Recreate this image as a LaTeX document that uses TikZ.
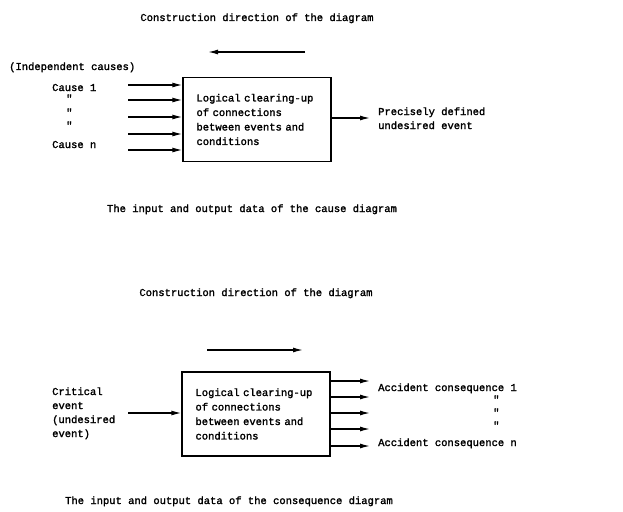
\documentclass[tikz,border=0pt]{standalone}
\usepackage{fontspec}
\newfontfamily\typewriter{Liberation Mono}[FakeBold=1.8]
\usetikzlibrary{arrows.meta}

\tikzset{
	txt/.style={anchor=base west, inner sep=0pt, font=\typewriter\fontsize{10.5}{14.5}\selectfont},
	logicbox/.style={draw, line width=1.3pt, minimum width=148pt, minimum height=84pt,
		text width=121pt, align=left, inner sep=0pt, font=\typewriter\fontsize{10.5}{14.5}\selectfont},
	flow/.style={->, line width=1.3pt},
}

\begin{document}
\begin{tikzpicture}[x=1pt, y=-1pt, >={Latex[length=10pt,width=5pt]}]
		\useasboundingbox (0,0) rectangle (623,511);
		% cause diagram
		\node[txt, anchor=base] (title1) at (257, 21) {Construction direction of the diagram};
		\coordinate (dirA) at (305, 52);
		\coordinate (dirB) at (208, 52);
		\draw[flow] (dirA) -- (dirB);
		\node[logicbox] (box1) at (257, 119.5) {Logical clearing-up\\of connections\\between events and\\conditions};
		\node[txt] (indep) at (9, 70) {(Independent causes)};
		\node[txt] (cause1) at (52, 91) {Cause 1};
		\node[txt] (ditto1) at (66, 102) {"};
		\node[txt] (ditto2) at (66, 116) {"};
		\node[txt] (ditto3) at (66, 129) {"};
		\node[txt] (causen) at (52, 148) {Cause n};
		\foreach \i/\y in {1/85, 2/100, 3/117, 4/134, 5/150} {
			\coordinate (in\i) at (128, \y);
			\draw[flow] (in\i) -- (in\i -| box1.west);
		}
		\coordinate (out1) at (370, 118);
		\draw[flow] (out1 -| box1.east) -- (out1);
		\node[txt] (undesired) at (378, 115) {Precisely defined};
		\node[txt] (undesired2) at (378, 129) {undesired event};
		\node[txt, anchor=base] (caption1) at (252, 212) {The input and output data of the cause diagram};

		% consequence diagram
		\node[txt, anchor=base] (title2) at (256, 296) {Construction direction of the diagram};
		\coordinate (dirC) at (207, 350);
		\coordinate (dirD) at (303, 350);
		\draw[flow] (dirC) -- (dirD);
		\node[logicbox] (box2) at (256, 414) {Logical clearing-up\\of connections\\between events and\\conditions};
		\node[txt] (critical) at (52, 395) {Critical};
		\node[txt] (critical2) at (52, 409) {event};
		\node[txt] (critical3) at (52, 423) {(undesired};
		\node[txt] (critical4) at (52, 437) {event)};
		\coordinate (in0) at (128, 413);
		\draw[flow] (in0) -- (in0 -| box2.west);
		\foreach \i/\y in {1/381, 2/397, 3/413, 4/429, 5/446} {
			\coordinate (res\i) at (370, \y);
			\draw[flow] (res\i -| box2.east) -- (res\i);
		}
		\node[txt] (conseq1) at (378, 391) {Accident consequence 1};
		\node[txt] (ditto4) at (493, 403) {"};
		\node[txt] (ditto5) at (493, 416) {"};
		\node[txt] (ditto6) at (493, 429) {"};
		\node[txt] (conseqn) at (378, 446) {Accident consequence n};
		\node[txt, anchor=base] (caption2) at (229, 504) {The input and output data of the consequence diagram};
	\end{tikzpicture}
\end{document}
